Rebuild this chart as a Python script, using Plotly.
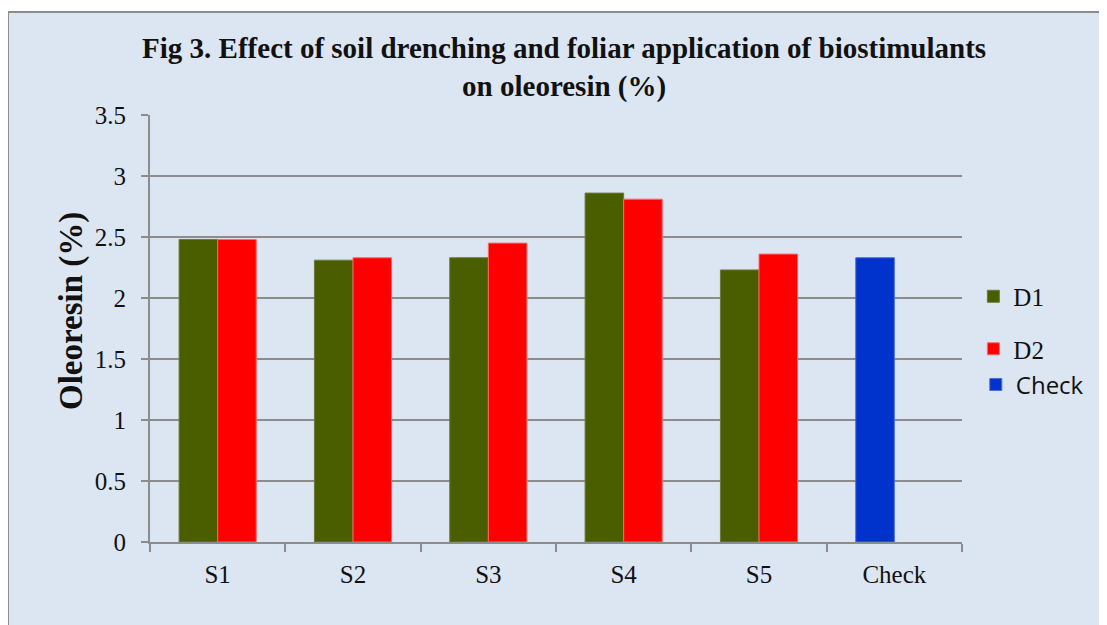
import plotly.graph_objects as go

categories = ["S1", "S2", "S3", "S4", "S5", "Check"]
d1_values = [2.48, 2.31, 2.33, 2.86, 2.23, None]
d2_values = [2.48, 2.33, 2.45, 2.81, 2.36, None]
check_values = [None, None, None, None, None, 2.33]
y_ticks = [0, 0.5, 1, 1.5, 2, 2.5, 3, 3.5]
y_tick_labels = ["0", "0.5", "1", "1.5", "2", "2.5", "3", "3.5"]

BG = "#dce6f2"
GRID = "#8c8c8c"
SERIF = "Liberation Serif"
W = 0.285
TXT = dict(family=SERIF, size=25, color="#111111")

fig = go.Figure()
fig.add_trace(go.Bar(x=categories, y=d1_values, name="D1", marker_color="#4a5e00",
                     marker_line_color="#6b7a3a", marker_line_width=1, width=W, offset=-W,
                     legend="legend", legendgroup="g1"))
fig.add_trace(go.Bar(x=categories, y=d2_values, name="D2", marker_color="#ff0000",
                     marker_line_color="#ff6a6a", marker_line_width=1, width=W, offset=0,
                     legend="legend", legendgroup="g2"))
fig.add_trace(go.Bar(x=categories, y=check_values, name="Check",
                     marker_color="#0033cc", marker_line_color="#4a6ae0", marker_line_width=1,
                     width=W, offset=-W, legend="legend2", legendgroup="g3"))

# page body has an 8px margin, so the figure is 8px smaller and margins are reduced by 8
fig.update_layout(
    width=1099, height=617,
    margin=dict(l=142, r=145, t=107, b=83),
    paper_bgcolor="white",
    plot_bgcolor="rgba(0,0,0,0)",
    barmode="overlay",
    font=TXT,
    title=dict(
        text="<b>Fig 3. Effect of soil drenching and foliar application of biostimulants<br>on oleoresin (%)</b>",
        x=0.51, xref="paper", xanchor="center", y=0.919, yref="container", yanchor="middle",
        font=dict(family=SERIF, size=29, color="#111111"),
    ),
    legend=dict(x=1.014, y=0.514, xanchor="left", yanchor="middle",
                font=TXT, bgcolor="rgba(0,0,0,0)",
                tracegroupgap=17, itemwidth=30),
    legend2=dict(x=1.017, y=0.368, xanchor="left", yanchor="middle",
                 font=dict(family="Open Sans", size=24, color="#111111"),
                 bgcolor="rgba(0,0,0,0)", itemwidth=30),
    shapes=[dict(type="rect", xref="paper", yref="paper", x0=-0.1749, x1=1.19, y0=-0.22, y1=1.241,
                 fillcolor=BG, line=dict(color="#8c8c8c", width=2), layer="below")],
    annotations=[dict(text="<b>Oleoresin (%)</b>", xref="paper", yref="paper", x=-0.096, y=0.541,
                      xanchor="center", yanchor="middle", textangle=-90, showarrow=False,
                      font=dict(family=SERIF, size=33, color="#111111"))],
    showlegend=True,
)
fig.update_xaxes(
    type="category", showgrid=False, showline=True, linecolor=GRID, linewidth=2,
    ticks="outside", tickson="boundaries", ticklen=8, tickcolor=GRID, tickwidth=2,
    ticklabelstandoff=9, tickfont=TXT,
    range=[-0.5, 5.5],
)
fig.update_yaxes(
    range=[0, 3.5], tickvals=y_ticks, ticktext=y_tick_labels,
    showgrid=True, gridcolor=GRID, gridwidth=2, showline=True, linecolor=GRID, linewidth=2,
    ticks="outside", ticklen=7, tickcolor=GRID, tickwidth=2, ticklabelstandoff=10,
    tickfont=TXT, zeroline=False,
)

fig.write_html("out.html")
